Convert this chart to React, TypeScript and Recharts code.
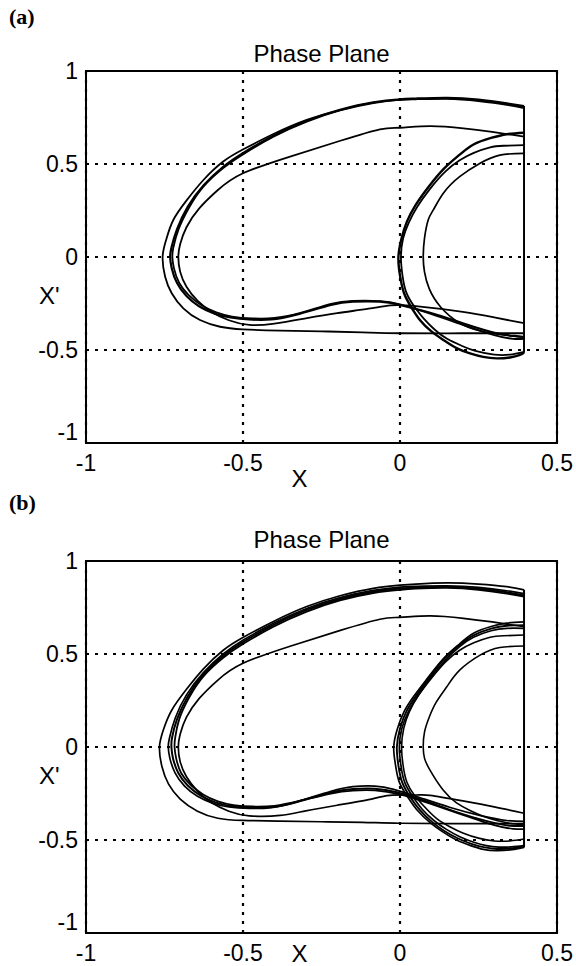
import { LineChart, Line, XAxis, YAxis, CartesianGrid, ReferenceArea } from 'recharts'

type P = [number, number]

const xTicks = [-1, -0.5, 0, 0.5]
const yTicks = [-1, -0.5, 0, 0.5, 1]

// (a) trajectories
const aOuter: P[] = [
  [0.395, 0.8], [0.34, 0.818], [0.25, 0.838], [0.15, 0.85], [0.05, 0.848], [0, 0.845], [-0.085, 0.83],
  [-0.191, 0.79], [-0.297, 0.737], [-0.403, 0.661], [-0.499, 0.579], [-0.563, 0.513], [-0.626, 0.414],
  [-0.679, 0.306], [-0.722, 0.199], [-0.745, 0.091], [-0.756, 0], [-0.748, -0.106], [-0.727, -0.195],
  [-0.69, -0.276], [-0.637, -0.339], [-0.573, -0.375], [-0.5, -0.389], [-0.382, -0.396], [-0.25, -0.4],
  [-0.12, -0.405], [0, -0.41], [0.2, -0.41], [0.395, -0.41],
]
const aMid1: P[] = [
  [0.395, 0.812], [0.34, 0.826], [0.25, 0.846], [0.15, 0.856], [0.05, 0.852], [0, 0.848], [-0.085, 0.832],
  [-0.191, 0.792], [-0.297, 0.733], [-0.403, 0.652], [-0.499, 0.56], [-0.563, 0.485], [-0.626, 0.385],
  [-0.676, 0.27], [-0.71, 0.15], [-0.728, 0.05], [-0.732, 0], [-0.727, -0.06], [-0.71, -0.14], [-0.68, -0.21],
  [-0.64, -0.265], [-0.59, -0.305], [-0.54, -0.325], [-0.48, -0.336], [-0.41, -0.336], [-0.33, -0.31],
  [-0.22, -0.258], [-0.15, -0.24], [-0.064, -0.24], [0, -0.258], [0.096, -0.3], [0.2, -0.356], [0.308, -0.41],
  [0.371, -0.425], [0.395, -0.43],
]
const aMid2: P[] = [
  [0.395, 0.805], [0.34, 0.822], [0.25, 0.842], [0.15, 0.853], [0.05, 0.85], [0, 0.846], [-0.085, 0.828],
  [-0.191, 0.788], [-0.297, 0.728], [-0.403, 0.647], [-0.499, 0.553], [-0.563, 0.478], [-0.626, 0.378],
  [-0.672, 0.265], [-0.705, 0.15], [-0.722, 0.05], [-0.725, 0], [-0.72, -0.06], [-0.703, -0.14], [-0.673, -0.205],
  [-0.633, -0.258], [-0.585, -0.298], [-0.535, -0.32], [-0.47, -0.33], [-0.4, -0.328], [-0.32, -0.302],
  [-0.22, -0.252], [-0.15, -0.236], [-0.064, -0.237], [0, -0.255], [0.096, -0.305], [0.2, -0.365], [0.3, -0.42],
  [0.36, -0.44], [0.395, -0.44],
]
const aInner: P[] = [
  [0.395, 0.647], [0.36, 0.656], [0.287, 0.674], [0.202, 0.692], [0.096, 0.704], [0, 0.695], [-0.064, 0.686],
  [-0.19, 0.625], [-0.35, 0.54], [-0.5, 0.45], [-0.58, 0.36], [-0.64, 0.26], [-0.68, 0.16], [-0.7, 0.07],
  [-0.706, 0], [-0.7, -0.08], [-0.68, -0.16], [-0.645, -0.235], [-0.6, -0.295], [-0.545, -0.34], [-0.48, -0.365],
  [-0.4, -0.358], [-0.3, -0.33], [-0.2, -0.302], [-0.1, -0.278], [-0.03, -0.26], [0.05, -0.264], [0.2, -0.295],
  [0.3, -0.325], [0.395, -0.356],
]
const aSmall1: P[] = [
  [0.395, 0.668], [0.34, 0.66], [0.29, 0.64], [0.234, 0.605], [0.19, 0.55], [0.14, 0.475], [0.09, 0.375],
  [0.05, 0.28], [0.022, 0.19], [0.005, 0.1], [-0.005, 0], [0, -0.1], [0.013, -0.195], [0.036, -0.27],
  [0.064, -0.34], [0.1, -0.4], [0.138, -0.446], [0.18, -0.49], [0.223, -0.518], [0.265, -0.537],
  [0.308, -0.545], [0.35, -0.54], [0.38, -0.528], [0.395, -0.515],
]
const aSmall2: P[] = [
  [0.395, 0.602], [0.33, 0.598], [0.287, 0.59], [0.235, 0.56], [0.19, 0.52], [0.145, 0.46], [0.095, 0.365],
  [0.055, 0.27], [0.028, 0.185], [0.01, 0.1], [0.003, 0], [0.008, -0.1], [0.02, -0.19], [0.045, -0.265],
  [0.075, -0.33], [0.11, -0.39], [0.15, -0.44], [0.2, -0.48], [0.24, -0.505], [0.3, -0.525], [0.35, -0.525],
  [0.395, -0.51],
]
const aSmall3: P[] = [
  [0.395, 0.557], [0.318, 0.548], [0.255, 0.504], [0.19, 0.432], [0.138, 0.343], [0.106, 0.253], [0.09, 0.2],
  [0.078, 0.1], [0.074, 0], [0.078, -0.08], [0.093, -0.17], [0.13, -0.27], [0.19, -0.355], [0.25, -0.395],
  [0.31, -0.415], [0.36, -0.425], [0.395, -0.43],
]
const aWall: P[] = [[0.395, -0.515], [0.395, 0.812]]

// (b) trajectories
const bOuter: P[] = [
  [0.395, 0.845], [0.34, 0.862], [0.25, 0.876], [0.15, 0.882], [0.05, 0.876], [0, 0.87], [-0.085, 0.853],
  [-0.191, 0.813], [-0.297, 0.755], [-0.403, 0.675], [-0.499, 0.59], [-0.563, 0.52], [-0.626, 0.42],
  [-0.68, 0.31], [-0.728, 0.195], [-0.754, 0.09], [-0.766, 0], [-0.758, -0.106], [-0.737, -0.2], [-0.7, -0.28],
  [-0.645, -0.345], [-0.58, -0.383], [-0.5, -0.395], [-0.382, -0.398], [-0.25, -0.402], [-0.12, -0.405],
  [0, -0.41], [0.2, -0.412], [0.395, -0.412],
]
const bMid1: P[] = [
  [0.395, 0.825], [0.34, 0.84], [0.25, 0.858], [0.15, 0.866], [0.05, 0.864], [0, 0.86], [-0.085, 0.842],
  [-0.191, 0.803], [-0.297, 0.745], [-0.403, 0.665], [-0.499, 0.575], [-0.563, 0.5], [-0.626, 0.4],
  [-0.68, 0.28], [-0.716, 0.155], [-0.734, 0.05], [-0.738, 0], [-0.733, -0.06], [-0.716, -0.14], [-0.686, -0.21],
  [-0.645, -0.265], [-0.595, -0.303], [-0.545, -0.322], [-0.48, -0.33], [-0.41, -0.326], [-0.33, -0.295],
  [-0.22, -0.238], [-0.15, -0.213], [-0.08, -0.21], [-0.02, -0.228], [0.06, -0.27], [0.16, -0.325],
  [0.26, -0.37], [0.34, -0.395], [0.395, -0.4],
]
const bMid2: P[] = [
  [0.395, 0.815], [0.34, 0.832], [0.25, 0.851], [0.15, 0.86], [0.05, 0.857], [0, 0.852], [-0.085, 0.835],
  [-0.191, 0.796], [-0.297, 0.737], [-0.403, 0.656], [-0.499, 0.565], [-0.563, 0.49], [-0.626, 0.39],
  [-0.676, 0.272], [-0.71, 0.15], [-0.726, 0.05], [-0.728, 0], [-0.723, -0.06], [-0.706, -0.14], [-0.676, -0.207],
  [-0.636, -0.26], [-0.588, -0.298], [-0.538, -0.317], [-0.475, -0.325], [-0.405, -0.322], [-0.325, -0.294],
  [-0.22, -0.245], [-0.15, -0.226], [-0.08, -0.224], [-0.01, -0.243], [0.08, -0.29], [0.18, -0.35],
  [0.28, -0.4], [0.35, -0.423], [0.395, -0.425],
]
const bMid3: P[] = [
  [0.395, 0.808], [0.34, 0.825], [0.25, 0.845], [0.15, 0.855], [0.05, 0.851], [0, 0.845], [-0.085, 0.828],
  [-0.191, 0.788], [-0.297, 0.728], [-0.403, 0.647], [-0.499, 0.555], [-0.563, 0.48], [-0.626, 0.38],
  [-0.672, 0.265], [-0.703, 0.15], [-0.716, 0.05], [-0.718, 0], [-0.713, -0.06], [-0.697, -0.14], [-0.667, -0.203],
  [-0.627, -0.255], [-0.58, -0.292], [-0.53, -0.312], [-0.47, -0.32], [-0.4, -0.316], [-0.32, -0.29],
  [-0.22, -0.25], [-0.15, -0.234], [-0.08, -0.233], [0, -0.255], [0.096, -0.305], [0.2, -0.365], [0.3, -0.42],
  [0.36, -0.44], [0.395, -0.442],
]
const bInner: P[] = [
  [0.395, 0.647], [0.36, 0.656], [0.287, 0.674], [0.202, 0.692], [0.096, 0.705], [0, 0.697], [-0.064, 0.687],
  [-0.19, 0.627], [-0.35, 0.542], [-0.5, 0.45], [-0.58, 0.36], [-0.64, 0.26], [-0.68, 0.16], [-0.7, 0.07],
  [-0.706, 0], [-0.7, -0.08], [-0.68, -0.16], [-0.645, -0.237], [-0.6, -0.3], [-0.545, -0.345], [-0.48, -0.37],
  [-0.382, -0.368], [-0.3, -0.343], [-0.2, -0.313], [-0.1, -0.283], [-0.032, -0.26], [0.05, -0.258],
  [0.096, -0.26], [0.2, -0.29], [0.3, -0.322], [0.395, -0.356],
]
const bSmall1: P[] = [
  [0.395, 0.673], [0.34, 0.666], [0.29, 0.648], [0.234, 0.612], [0.19, 0.555], [0.14, 0.478], [0.09, 0.375],
  [0.045, 0.275], [0.013, 0.19], [-0.008, 0.1], [-0.02, 0], [-0.014, -0.1], [-0.002, -0.19], [0.025, -0.27],
  [0.055, -0.34], [0.095, -0.405], [0.135, -0.455], [0.18, -0.5], [0.225, -0.53], [0.265, -0.55],
  [0.308, -0.557], [0.35, -0.553], [0.38, -0.545], [0.395, -0.54],
]
const bSmall2: P[] = [
  [0.395, 0.655], [0.34, 0.652], [0.29, 0.636], [0.234, 0.6], [0.19, 0.548], [0.14, 0.472], [0.092, 0.37],
  [0.05, 0.272], [0.02, 0.19], [0, 0.1], [-0.01, 0], [-0.005, -0.1], [0.007, -0.19], [0.033, -0.27],
  [0.063, -0.338], [0.1, -0.4], [0.14, -0.45], [0.185, -0.492], [0.23, -0.522], [0.27, -0.54],
  [0.31, -0.548], [0.35, -0.546], [0.38, -0.54], [0.395, -0.535],
]
const bSmall3: P[] = [
  [0.395, 0.638], [0.34, 0.638], [0.29, 0.625], [0.234, 0.59], [0.19, 0.54], [0.145, 0.468], [0.095, 0.367],
  [0.055, 0.27], [0.026, 0.188], [0.006, 0.1], [-0.002, 0], [0.003, -0.1], [0.015, -0.19], [0.04, -0.265],
  [0.07, -0.333], [0.108, -0.395], [0.148, -0.443], [0.192, -0.484], [0.235, -0.512], [0.275, -0.53],
  [0.315, -0.538], [0.355, -0.537], [0.395, -0.53],
]
const bSmall4: P[] = [
  [0.395, 0.602], [0.33, 0.598], [0.287, 0.59], [0.235, 0.56], [0.19, 0.52], [0.145, 0.458], [0.1, 0.37],
  [0.06, 0.28], [0.03, 0.19], [0.012, 0.1], [0.005, 0], [0.01, -0.1], [0.022, -0.19], [0.047, -0.262],
  [0.08, -0.325], [0.117, -0.385], [0.16, -0.43], [0.2, -0.462], [0.25, -0.49], [0.3, -0.505], [0.35, -0.505],
  [0.395, -0.495],
]
const bSmall5: P[] = [
  [0.395, 0.543], [0.318, 0.535], [0.255, 0.494], [0.19, 0.413], [0.149, 0.324], [0.115, 0.24], [0.093, 0.16],
  [0.078, 0.08], [0.074, 0], [0.078, -0.06], [0.096, -0.126], [0.138, -0.233], [0.18, -0.3], [0.223, -0.341],
  [0.265, -0.372], [0.308, -0.395], [0.35, -0.41], [0.395, -0.42],
]
const bWall: P[] = [[0.395, -0.54], [0.395, 0.845]]

const pts = (a: P[]) => a.map(([x, y]) => ({ x, y }))

const sans = '"Liberation Sans", Arial, Helvetica, sans-serif'

type Curve = { id: string; data: P[]; w: number; linear?: boolean }

const curvesA: Curve[] = [
  { id: 'outer', data: aOuter, w: 1.8 },
  { id: 'mid1', data: aMid1, w: 2.2 },
  { id: 'mid2', data: aMid2, w: 1.8 },
  { id: 'inner', data: aInner, w: 1.8 },
  { id: 's1', data: aSmall1, w: 2.4 },
  { id: 's2', data: aSmall2, w: 1.8 },
  { id: 's3', data: aSmall3, w: 1.7 },
  { id: 'wall', data: aWall, w: 2, linear: true },
]

const curvesB: Curve[] = [
  { id: 'outer', data: bOuter, w: 1.7 },
  { id: 'mid1', data: bMid1, w: 1.7 },
  { id: 'mid2', data: bMid2, w: 2 },
  { id: 'mid3', data: bMid3, w: 1.8 },
  { id: 'inner', data: bInner, w: 1.7 },
  { id: 's1', data: bSmall1, w: 1.7 },
  { id: 's2', data: bSmall2, w: 1.9 },
  { id: 's3', data: bSmall3, w: 1.7 },
  { id: 's4', data: bSmall4, w: 1.6 },
  { id: 's5', data: bSmall5, w: 1.6 },
  { id: 'wall', data: bWall, w: 2, linear: true },
]

function YTick(props: any) {
  const { x, y, payload } = props
  const shift = payload.value === -1 ? -11 : 0
  return (
    <text x={x} y={y + shift} dy="0.355em" textAnchor="end" fontSize={23} fontFamily={sans} fill="#000">
      {payload.value}
    </text>
  )
}

function PhasePanel({ curves, top, height, tag, titleY, xLabelOffset, yLabelDy }: {
  curves: Curve[]; top: number; height: number; tag: string; titleY: number; xLabelOffset: number; yLabelDy: number
}) {
  return (
    <div style={{ position: 'absolute', left: 0, top, width: 576, height }}>
      <div style={{ position: 'absolute', left: 9, top: tag === '(a)' ? 4 : 0, fontFamily: '"Liberation Serif", "Times New Roman", serif', fontSize: 22, fontWeight: 'bold', color: '#000' }}>
        {tag}
      </div>
      <div style={{ position: 'absolute', left: 0, width: 643, top: titleY - 15, textAlign: 'center', fontFamily: sans, fontSize: 24, lineHeight: '30px', color: '#000' }}>
        Phase Plane
      </div>
      <LineChart width={576} height={height} margin={{ top: 71, right: 19, bottom: height - 489, left: 26 }}>
        <CartesianGrid stroke="#000" strokeWidth={2.2} strokeDasharray="3 6" />
        <XAxis
          type="number"
          dataKey="x"
          domain={[-1, 0.5]}
          ticks={xTicks}
          allowDataOverflow
          axisLine={false}
          tickLine={false}
          tickSize={8}
          tickMargin={4}
          height={46}
          tick={{ fill: '#000', fontSize: 23, fontFamily: sans }}
          label={{ value: 'X', position: 'insideBottom', offset: xLabelOffset, dx: -22, fill: '#000', fontSize: 24, fontFamily: sans }}
        />
        <YAxis
          type="number"
          domain={[-1, 1]}
          ticks={yTicks}
          allowDataOverflow
          axisLine={false}
          tickLine={false}
          tickSize={4}
          tickMargin={4}
          width={60}
          tick={<YTick />}
          label={{ value: "X'", position: 'insideLeft', offset: 13, dy: yLabelDy, fill: '#000', fontSize: 24, fontFamily: sans }}
        />
        {curves.map((c) => (
          <Line
            key={c.id}
            data={pts(c.data)}
            dataKey="y"
            type={c.linear ? 'linear' : 'natural'}
            stroke="#000"
            strokeWidth={c.w}
            dot={false}
            activeDot={false}
            isAnimationActive={false}
          />
        ))}
        <ReferenceArea x1={-1} x2={0.5} y1={-1} y2={1} fill="none" stroke="#000" strokeWidth={2} fillOpacity={0} ifOverflow="visible" />
      </LineChart>
    </div>
  )
}

export default function App() {
  return (
    <div style={{ position: 'absolute', left: 0, top: 0, width: 576, height: 966, overflow: 'hidden', background: '#fff' }}>
      <PhasePanel curves={curvesA} top={0} height={500} tag="(a)" titleY={54} xLabelOffset={2} yLabelDy={38} />
      <PhasePanel curves={curvesB} top={490} height={489} tag="(b)" titleY={50} xLabelOffset={17} yLabelDy={28} />
    </div>
  )
}
